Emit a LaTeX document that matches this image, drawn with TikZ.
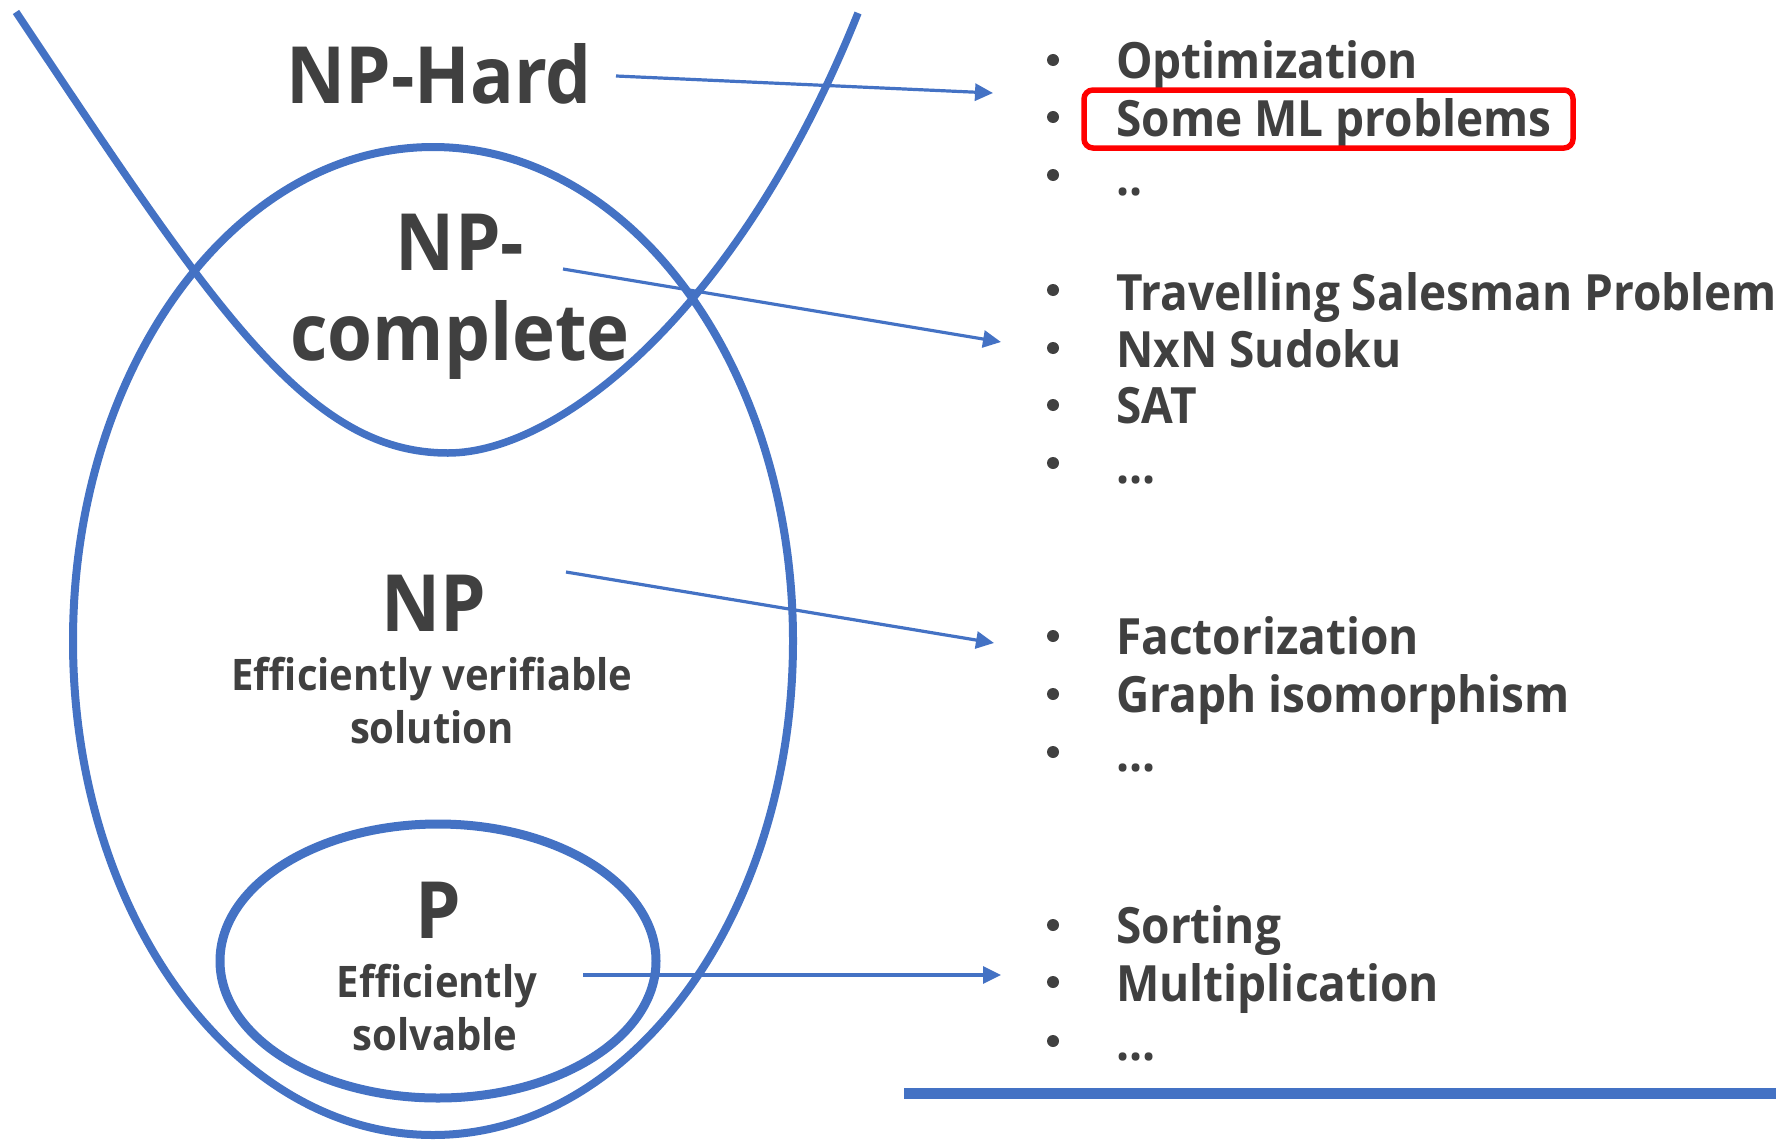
\documentclass[tikz,border=0pt]{standalone}
\usepackage{fontspec}
\setmainfont{Open Sans}[FakeStretch=0.92]
\usetikzlibrary{arrows.meta}
\definecolor{txt}{RGB}{64,64,64}
\definecolor{accent}{RGB}{68,114,196}
\begin{document}
\begin{tikzpicture}[x=1pt,y=-1pt,
  big/.style={font=\bfseries\fontsize{79}{80}\selectfont, text=txt, inner sep=0pt, anchor=base},
  small/.style={font=\bfseries\fontsize{43.5}{44}\selectfont, text=txt, inner sep=0pt, anchor=base},
  item/.style={font=\bfseries\fontsize{50}{52}\selectfont, text=txt, inner sep=0pt, anchor=base west},
  bul/.style={circle, fill=txt, minimum size=12pt, inner sep=0pt},
  conn/.style={accent, line width=3.2pt, -{Triangle[length=18pt,width=17pt]}},
  setline/.style={accent, line width=8pt},
]
\useasboundingbox (0,0) rectangle (1776,1140);
% sets
\draw[setline] (433,641) ellipse [x radius=360, y radius=494];
\draw[setline, line width=9pt] (438,961) ellipse [x radius=218, y radius=137];
\draw[setline, line width=7.5pt] (16,12) .. controls (216,312) and (308,453) .. (448,453)
   .. controls (558,453) and (738,313) .. (858,13);
% labels
\node[big] (nphard) at (439,103) {NP-Hard};
\node[big] (npc1) at (460,270) {NP-};
\node[big] (npc2) at (460,360) {complete};
\node[big] (np) at (434,631) {NP};
\node[small] (npd1) at (432,690) {Efficiently verifiable};
\node[small] (npd2) at (432,743) {solution};
\node[big] (p) at (438,938) {P};
\node[small] (pd1) at (437,997) {Efficiently};
\node[small] (pd2) at (435,1050) {solvable};
% connectors
\coordinate (h0) at (616,76);  \coordinate (h1) at (993,93);
\coordinate (c0) at (563,269); \coordinate (c1) at (1001,342);
\coordinate (n0) at (566,572); \coordinate (n1) at (994,643);
\coordinate (p0) at (583,975); \coordinate (p1) at (1001,975);
\draw[conn] (h0) -- (h1);
\draw[conn] (c0) -- (c1);
\draw[conn] (n0) -- (n1);
\draw[conn] (p0) -- (p1);
% lists
\node[item] (i1) at (1116,78) {Optimization};
\node[item] (i2) at (1116,136) {Some ML problems};
\node[item] (i3) at (1116,195) {..};
\node[item] (i4) at (1116,310) {Travelling Salesman Problem};
\node[item] (i5) at (1116,367) {NxN Sudoku};
\node[item] (i6) at (1116,423) {SAT};
\node[item] (i7) at (1116,483) {...};
\node[item] (i8) at (1116,654) {Factorization};
\node[item] (i9) at (1116,712) {Graph isomorphism};
\node[item] (i10) at (1116,771) {...};
\node[item] (i11) at (1116,943) {Sorting};
\node[item] (i12) at (1116,1001) {Multiplication};
\node[item] (i13) at (1116,1060) {...};
\foreach \nm/\y in {b1/60, b2/117, b3/175, b4/290, b5/348, b6/405, b7/463, b8/636, b9/694, b10/752, b11/925, b12/982, b13/1041}{
  \node[bul] (\nm) at (1053,\y) {};
}
\draw[red, line width=5.5pt, rounded corners=9pt] (1084,90) rectangle (1573,148);
\draw[accent, line width=11pt] (904,1093) -- (1776,1093);
\end{tikzpicture}
\end{document}
